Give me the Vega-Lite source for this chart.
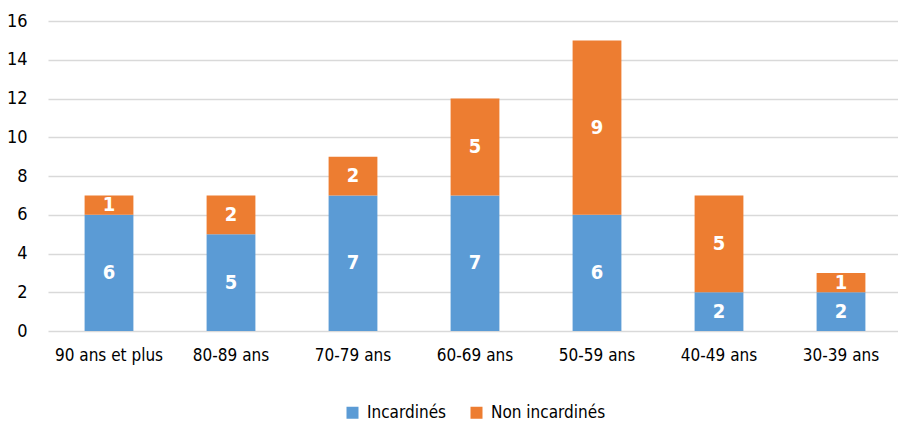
{
  "$schema": "https://vega.github.io/schema/vega-lite/v6.json",
  "autosize": "none",
  "width": 850,
  "height": 310,
  "padding": {"left": 48, "top": 21, "right": 0, "bottom": 91},
  "background": "white",
  "config": {
    "view": {"stroke": null},
    "font": "DejaVu Sans Condensed"
  },
  "data": {
    "values": [
      {"age": "90 ans et plus", "statut": "Incardinés", "n": 6},
      {"age": "90 ans et plus", "statut": "Non incardinés", "n": 1},
      {"age": "80-89 ans", "statut": "Incardinés", "n": 5},
      {"age": "80-89 ans", "statut": "Non incardinés", "n": 2},
      {"age": "70-79 ans", "statut": "Incardinés", "n": 7},
      {"age": "70-79 ans", "statut": "Non incardinés", "n": 2},
      {"age": "60-69 ans", "statut": "Incardinés", "n": 7},
      {"age": "60-69 ans", "statut": "Non incardinés", "n": 5},
      {"age": "50-59 ans", "statut": "Incardinés", "n": 6},
      {"age": "50-59 ans", "statut": "Non incardinés", "n": 9},
      {"age": "40-49 ans", "statut": "Incardinés", "n": 2},
      {"age": "40-49 ans", "statut": "Non incardinés", "n": 5},
      {"age": "30-39 ans", "statut": "Incardinés", "n": 2},
      {"age": "30-39 ans", "statut": "Non incardinés", "n": 1}
    ]
  },
  "transform": [
    {"calculate": "datum.statut === 'Incardinés' ? 0 : 1", "as": "ord"},
    {"stack": "n", "groupby": ["age"], "sort": [{"field": "ord", "order": "ascending"}], "as": ["y0", "y1"]},
    {"calculate": "(datum.y0 + datum.y1) / 2", "as": "ymid"}
  ],
  "encoding": {
    "x": {
      "field": "age",
      "type": "nominal",
      "sort": null,
      "scale": {"range": [0, 854], "paddingInner": 0.6, "paddingOuter": 0.3},
      "axis": {
        "title": null,
        "labelAngle": 0,
        "labelFontSize": 17,
        "labelColor": "#000000",
        "labelPadding": 16,
        "ticks": false,
        "domain": false,
        "grid": false
      }
    },
    "y": {
      "field": "ymid",
      "type": "quantitative",
      "scale": {"domain": [0, 16]},
      "axis": {
        "title": null,
        "values": [0, 2, 4, 6, 8, 10, 12, 14, 16],
        "labelOverlap": false,
        "labelFontSize": 18,
        "labelColor": "#000000",
        "labelPadding": 21,
        "ticks": false,
        "domain": false,
        "gridColor": "#d9d9d9",
        "gridWidth": 1.5
      }
    }
  },
  "layer": [
    {
      "mark": {"type": "bar"},
      "encoding": {
        "y": {
          "field": "y0",
          "type": "quantitative",
          "scale": {"domain": [0, 16]},
          "axis": {
            "title": null,
            "values": [0, 2, 4, 6, 8, 10, 12, 14, 16],
            "labelOverlap": false,
            "labelFontSize": 18,
            "labelColor": "#000000",
            "labelPadding": 21,
            "ticks": false,
            "domain": false,
            "gridColor": "#d9d9d9",
            "gridWidth": 1.5
          }
        },
        "y2": {"field": "y1"},
        "color": {
          "field": "statut",
          "type": "nominal",
          "scale": {"domain": ["Incardinés", "Non incardinés"], "range": ["#5B9BD5", "#ED7D31"]},
          "legend": {
            "title": null,
            "orient": "none",
            "direction": "horizontal",
            "legendX": 296,
            "legendY": 383,
            "symbolType": "square",
            "symbolSize": 144,
            "symbolStrokeWidth": 0,
            "labelFontSize": 17,
            "labelLimit": 300,
            "labelOffset": 6,
            "labelColor": "#000000",
            "columnPadding": 21,
            "symbolOffset": 0
          }
        }
      }
    },
    {
      "mark": {"type": "text", "color": "white", "fontWeight": "bold", "fontSize": 20, "baseline": "middle"},
      "encoding": {
        "text": {"field": "n", "type": "quantitative"}
      }
    }
  ]
}
